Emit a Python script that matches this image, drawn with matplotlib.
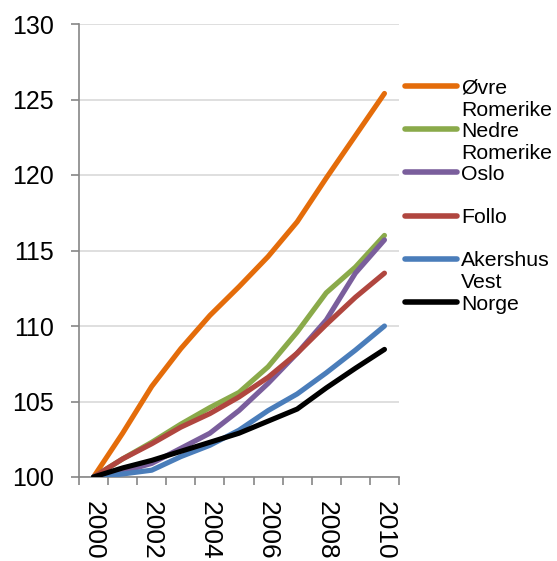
import matplotlib
matplotlib.use("Agg")
import matplotlib.pyplot as plt
from matplotlib.lines import Line2D

plt.rcParams['font.family'] = ['Liberation Sans', 'DejaVu Sans']

years = list(range(2000, 2011))
tick_years = [2000, 2002, 2004, 2006, 2008, 2010]

labels = ["Øvre\nRomerike", "Nedre\nRomerike", "Oslo", "Follo", "Akershus\nVest", "Norge"]
colors = ["#E46C0A", "#8AAA4A", "#7A5E9C", "#B0463F", "#4A7DBA", "#000000"]

ovre = [100, 102.9, 106.0, 108.5, 110.7, 112.6, 114.6, 116.9, 119.8, 122.6, 125.4]
nedre = [100, 101.2, 102.3, 103.5, 104.6, 105.6, 107.3, 109.6, 112.2, 113.9, 116.0]
oslo = [100, 100.35, 100.9, 101.9, 102.9, 104.4, 106.2, 108.2, 110.4, 113.5, 115.7]
follo = [100, 101.2, 102.2, 103.3, 104.2, 105.3, 106.6, 108.2, 110.1, 111.9, 113.5]
akershus = [100, 100.2, 100.45, 101.35, 102.1, 103.1, 104.4, 105.5, 106.9, 108.4, 110.0]
norge = [100, 100.6, 101.1, 101.7, 102.3, 102.9, 103.7, 104.5, 105.9, 107.2, 108.45]

series = [ovre, nedre, oslo, follo, akershus, norge]

fig = plt.figure(figsize=(5.57, 5.61), dpi=100)
ax = fig.add_axes([79 / 557, 1 - 477 / 561, (399 - 79) / 557, (477 - 24) / 561])

x = list(range(len(years)))
for vals, c in zip(series, colors):
    ax.plot(x, vals, color=c, lw=3.7, solid_capstyle='round', solid_joinstyle='round', zorder=3)

ax.set_xlim(-0.5, len(years) - 0.5)
ax.set_ylim(100, 130)
ax.set_yticks([100, 105, 110, 115, 120, 125, 130])
ax.yaxis.grid(True, color="#D9D9D9", lw=1.2)
ax.set_axisbelow(True)

ax.set_xticks([years.index(y) for y in tick_years])
ax.set_xticklabels([str(y) for y in tick_years], rotation=270)
ax.set_xticks([i - 0.5 for i in range(len(years) + 1)], minor=True)
ax.tick_params(axis='x', which='major', length=0, pad=17, labelsize=19)
ax.tick_params(axis='x', which='minor', length=6, width=1.2, color="#868686", direction='out')
ax.tick_params(axis='y', length=6, width=1.2, color="#868686", pad=12, labelsize=18)

for s in ['top', 'right']:
    ax.spines[s].set_visible(False)
for s in ['left', 'bottom']:
    ax.spines[s].set_color("#868686")
    ax.spines[s].set_linewidth(1.2)

# legend drawn by hand so the marker sits on the first text line
W, H = 557, 561
for i, (lab, c) in enumerate(zip(labels, colors)):
    ypx = 86 + 43.2 * i
    yf = 1 - ypx / H
    fig.add_artist(Line2D([405 / W, 457 / W], [yf, yf], color=c, lw=4, solid_capstyle='round'))
    for k, part in enumerate(lab.split("\n")):
        fig.text(461 / W, 1 - (ypx + 22 * k) / H, part, fontsize=15.3,
                 va='center_baseline', ha='left')

fig.savefig("out.png", dpi=100)
